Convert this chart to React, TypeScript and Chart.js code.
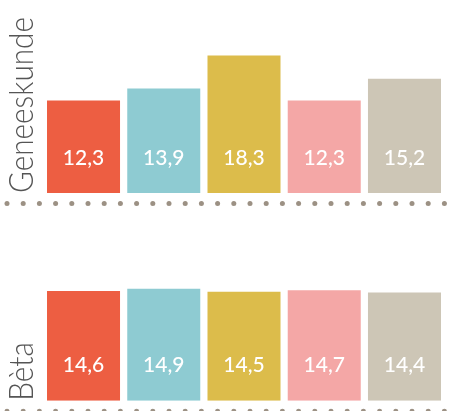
import React, { useEffect, useRef } from "react";
import { Chart, registerables } from "chart.js";

Chart.register(...registerables);

const categories = ["Groep 1", "Groep 2", "Groep 3", "Groep 4", "Groep 5"];
const geneeskundeValues = [12.3, 13.9, 18.3, 12.3, 15.2];
const betaValues = [14.6, 14.9, 14.5, 14.7, 14.4];
const barColors = ["#ED5E42", "#8ECBD2", "#DCBC4B", "#F4A7A6", "#CDC6B6"];
const panelTitles = ["Geneeskunde", "Bèta"];
const yMax = 25;

const dotColor = "#9C9184";

const decorPlugin = (title: string) => ({
  id: "decor" + title,
  afterDatasetsDraw(chart: any) {
    const ctx = chart.ctx;
    const area = chart.chartArea;
    const meta = chart.getDatasetMeta(0);
    const values = chart.data.datasets[0].data as number[];
    // value labels
    ctx.save();
    ctx.fillStyle = "#ffffff";
    ctx.font = "500 21px Lato, 'Open Sans', sans-serif";
    ctx.textAlign = "center";
    ctx.textBaseline = "middle";
    meta.data.forEach((bar: any, i: number) => {
      const txt = values[i].toFixed(1).replace(".", ",");
      ctx.fillText(txt, bar.x, bar.base - 35);
    });
    ctx.restore();

    // dotted rule
    ctx.save();
    ctx.fillStyle = dotColor;
    const y = area.bottom + 10.5;
    for (let x = 7; x < chart.width; x += 16.2) {
      ctx.beginPath();
      ctx.arc(x, y, 2.5, 0, Math.PI * 2);
      ctx.fill();
    }
    ctx.restore();

    // vertical title
    ctx.save();
    ctx.fillStyle = "#555555";
    ctx.font = "300 34px Lato, 'Open Sans', sans-serif";
    ctx.textAlign = "left";
    ctx.textBaseline = "alphabetic";
    ctx.translate(33, area.bottom);
    ctx.rotate(-Math.PI / 2);
    ctx.scale(0.875, 1);
    ctx.fillText(title, 0, 0);
    ctx.restore();
  },
});

function Panel({ values, title, height, padTop, padBottom }: any) {
  const ref = useRef<HTMLCanvasElement | null>(null);
  useEffect(() => {
    if (!ref.current) return;
    const chart = new Chart(ref.current, {
      type: "bar",
      data: {
        labels: categories,
        datasets: [
          {
            data: values,
            backgroundColor: barColors,
            barPercentage: 0.91,
            categoryPercentage: 1,
          },
        ],
      },
      options: {
        animation: false,
        responsive: false,
        layout: { padding: { left: 43.4, right: 6.4, top: padTop, bottom: padBottom } },
        plugins: { legend: { display: false }, tooltip: { enabled: false } },
        scales: {
          x: { display: false },
          y: { display: false, min: 0, max: yMax },
        },
      },
      plugins: [decorPlugin(title)],
    });
    return () => chart.destroy();
  }, []);
  return (
    <canvas
      ref={ref}
      width={451}
      height={height}
      style={{ display: "block", width: 451, height }}
    />
  );
}

export default function App() {
  return (
    <div
      style={{
        position: "absolute",
        left: 0,
        top: 0,
        width: 451,
        height: 411,
        background: "#ffffff",
        overflow: "hidden",
      }}
    >
      <Panel values={geneeskundeValues} title={panelTitles[0]} height={206} padTop={5} padBottom={13} />
      <Panel values={betaValues} title={panelTitles[1]} height={205} padTop={6.7} padBottom={10.3} />
    </div>
  );
}
